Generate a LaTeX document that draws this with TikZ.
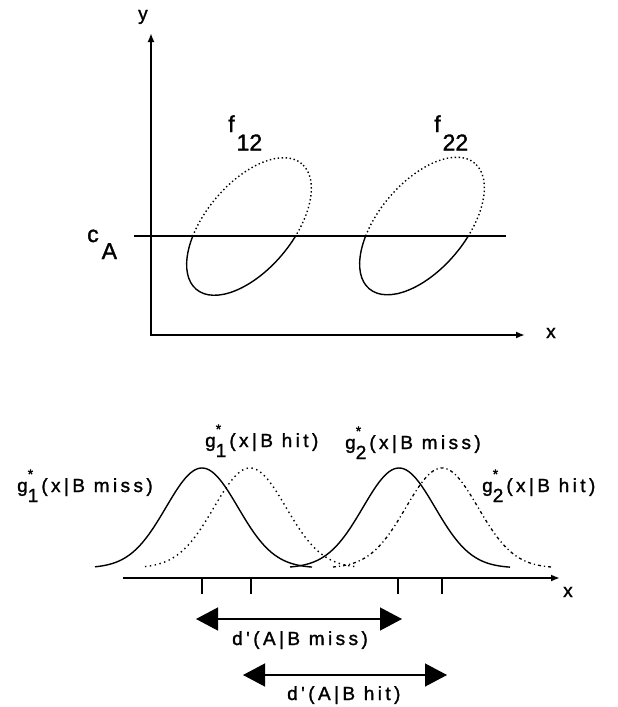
\documentclass[tikz,border=0pt]{standalone}
\usepackage{fontspec}
\setmainfont[FakeBold=1.2]{Liberation Sans}
\newfontfamily\lblfont[LetterSpace=18,FakeBold=1.4]{Liberation Sans}
\newfontfamily\topfont[FakeBold=1.4]{Liberation Sans}
\usetikzlibrary{arrows.meta}
\newcommand\gstar[1]{g\rlap{\raisebox{13pt}{\fontsize{14}{14}\selectfont *}}\raisebox{-10pt}{#1}\hspace{3pt}}
\begin{document}
\begin{tikzpicture}[x=1pt,y=-1pt,
  axisline/.style={line width=2.4pt,-{Latex[length=9pt,width=7pt]}},
  critline/.style={line width=2.4pt},
  solidcurve/.style={line width=1.4pt},
  topdot/.style={line width=1.4pt,dash pattern=on 1.4pt off 2.6pt},
  hitone/.style={line width=1.4pt,dash pattern=on 1.4pt off 3.5pt},
  hittwo/.style={line width=1.3pt,dash pattern=on 3pt off 3pt on 1.2pt off 3pt},
  tickline/.style={line width=1.8pt},
  dimarrow/.style={line width=1.3pt,{Triangle[length=22pt,width=23pt]}-{Triangle[length=22pt,width=23pt]}},
  toplbl/.style={font=\topfont\fontsize{23}{23}\selectfont,inner sep=0pt,anchor=base west},
  axlbl/.style={font=\topfont\fontsize{19}{19}\selectfont,inner sep=0pt,anchor=base west},
  botlbl/.style={font=\lblfont\fontsize{19}{19}\selectfont,inner sep=0pt,anchor=base west}]
\useasboundingbox (0,0) rectangle (618,707);
% ---------- top panel ----------
\coordinate (O) at (151,336);
\coordinate (ytip) at (151,33);
\coordinate (xtip) at (525,335);
\coordinate (cL) at (134,236);
\coordinate (cR) at (506,236);
\draw[axisline] (O) -- (ytip);
\draw[axisline] (150,335) -- (xtip);
\draw[critline] (cL) -- (cR);
\node[axlbl] (ylab) at (138,20) {y};
\node[axlbl] (xlab) at (546,338) {x};
\node[toplbl] (clab) at (87,242) {c\hspace{3pt}\raisebox{-17pt}{A}};
\node[toplbl] (f12) at (228,132) {f\hspace{2pt}\raisebox{-18.5pt}{12}};
\node[toplbl] (f22) at (434,132) {f\hspace{2pt}\raisebox{-18.5pt}{22}};
\begin{scope}
  \clip (0,0) rectangle (618,236);
  \draw[topdot,rotate around={50:(249,226.5)}] (249,226.5) ellipse [x radius=82pt,y radius=43.5pt];
  \draw[topdot,rotate around={50:(422,226)}] (422,226) ellipse [x radius=82pt,y radius=43.5pt];
\end{scope}
\begin{scope}
  \clip (0,236) rectangle (618,400);
  \draw[solidcurve,rotate around={50:(249,226.5)}] (249,226.5) ellipse [x radius=82pt,y radius=43.5pt];
  \draw[solidcurve,rotate around={50:(422,226)}] (422,226) ellipse [x radius=82pt,y radius=43.5pt];
\end{scope}
% ---------- bottom panel ----------
\coordinate (bL) at (123,578);
\coordinate (bR) at (560,578);
\draw[axisline] (bL) -- (bR);
\node[axlbl] (xlab2) at (563,597) {x};
\draw[solidcurve] plot[domain=95:312,samples=90,smooth] (\x,{568-100*exp(((\x-202)^2)/(-2592))});
\draw[hitone] plot[domain=145:357,samples=90,smooth] (\x,{568-100*exp(((\x-250)^2)/(-2592))});
\draw[solidcurve] plot[domain=290:510,samples=90,smooth] (\x,{568-100*exp(((\x-399)^2)/(-2592))});
\draw[hittwo] plot[domain=333:551,samples=90,smooth] (\x,{568-100*exp(((\x-442)^2)/(-2592))});
\foreach \t in {202,251,398,442} {\draw[tickline] (\t,578) -- (\t,594);}
\coordinate (m1) at (196,619);
\coordinate (m2) at (402,619);
\coordinate (h1) at (243,675);
\coordinate (h2) at (447,675);
\draw[dimarrow] (m1) -- (m2);
\draw[dimarrow] (h1) -- (h2);
\node[botlbl] (dmiss) at (232,645) {d'(A|B miss)};
\node[botlbl] (dhit) at (287,700) {d'(A|B hit)};
\node[botlbl] (g1miss) at (17,492) {\gstar{1}(x|B miss)};
\node[botlbl] (g1hit) at (205,447) {\gstar{1}(x|B hit)};
\node[botlbl] (g2miss) at (345,449) {\gstar{2}(x|B miss)};
\node[botlbl] (g2hit) at (482,492) {\gstar{2}(x|B hit)};
\end{tikzpicture}
\end{document}
